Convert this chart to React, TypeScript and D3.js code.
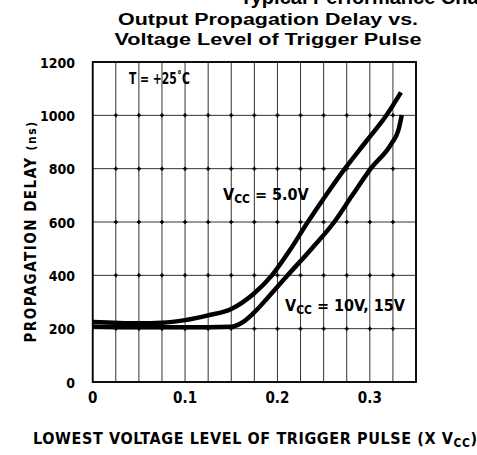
import React from "react";
import * as d3 from "d3";

const xTicks = [0, 0.1, 0.2, 0.3];
const yTicks = [0, 200, 400, 600, 800, 1000, 1200];
const xGrid = d3.range(0, 0.3501, 0.025);

// Vcc = 5.0V
const vcc5X = [0, 0.05, 0.075, 0.1, 0.125, 0.15, 0.174, 0.194, 0.213, 0.232, 0.2525, 0.273, 0.2955, 0.318, 0.3337];
const vcc5Y = [225, 220, 222, 232, 250, 274, 330, 400, 492, 595, 700, 800, 900, 1000, 1086];
// Vcc = 10V, 15V
const vcc10X = [0, 0.05, 0.1, 0.15, 0.161, 0.174, 0.19, 0.211, 0.237, 0.2615, 0.281, 0.301, 0.3236, 0.331, 0.3346];
const vcc10Y = [207, 205, 205, 207, 221, 258, 318, 400, 500, 600, 700, 800, 895, 945, 1001];

const FONT = "'DejaVu Sans Condensed', 'Liberation Sans Narrow', Arial, sans-serif";
const TFONT = "'Liberation Sans', Arial, sans-serif";

export default function App() {
  const W = 477, H = 455;
  const x = d3.scaleLinear().domain([0, 0.35]).range([92.7, 416]);
  const y = d3.scaleLinear().domain([0, 1200]).range([382, 62]);
  const line = d3.line<[number, number]>().x(d => x(d[0])).y(d => y(d[1])).curve(d3.curveMonotoneX);
  const s5 = vcc5X.map((v, i) => [v, vcc5Y[i]] as [number, number]);
  const s10 = vcc10X.map((v, i) => [v, vcc10Y[i]] as [number, number]);

  return (
    <svg width={W} height={H} style={{ position: "absolute", left: 0, top: 0, background: "#fff" }}>
      <rect width={W} height={H} fill="#fff" />
      <text x={240} y={4} fontFamily={TFONT} fontWeight="bold" fontSize={20}>Typical Performance Characteristics</text>
      <text x={268} y={25} textAnchor="middle" fontFamily={TFONT} fontWeight="bold" fontSize={16} textLength={300} lengthAdjust="spacingAndGlyphs">Output Propagation Delay vs.</text>
      <text x={268} y={45} textAnchor="middle" fontFamily={TFONT} fontWeight="bold" fontSize={16} textLength={307} lengthAdjust="spacingAndGlyphs">Voltage Level of Trigger Pulse</text>

      {xGrid.map((v, i) => (
        <line key={"vx" + i} x1={x(v)} x2={x(v)} y1={y(0)} y2={y(1200)} stroke="#333" strokeWidth={1} />
      ))}
      {yTicks.map((v, i) => (
        <line key={"hy" + i} x1={x(0)} x2={x(0.35)} y1={y(v)} y2={y(v)} stroke="#333" strokeWidth={1} />
      ))}
      {xGrid.slice(1, -1).map((v, i) =>
        yTicks.slice(1, -1).map((m, j) => (
          <g key={"mk" + i + "_" + j}>
            <line x1={x(v) - 2} x2={x(v) + 2} y1={y(m)} y2={y(m)} stroke="#000" strokeWidth={1.6} />
            <line x1={x(v)} x2={x(v)} y1={y(m) - 2} y2={y(m) + 2} stroke="#000" strokeWidth={1.6} />
          </g>
        ))
      )}
      <rect x={x(0)} y={y(1200)} width={x(0.35) - x(0)} height={y(0) - y(1200)} fill="none" stroke="#000" strokeWidth={1.8} />

      <path d={line(s5) || ""} fill="none" stroke="#000" strokeWidth={4.5} strokeLinecap="butt" />
      <path d={line(s10) || ""} fill="none" stroke="#000" strokeWidth={4.5} strokeLinecap="butt" />

      {yTicks.map((v, i) => (
        <text key={"yl" + i} x={75} y={y(v) + 5.5} textAnchor="end" fontFamily={FONT} fontWeight="bold" fontSize={14}>{v}</text>
      ))}
      {xTicks.map((v, i) => (
        <text key={"xl" + i} x={x(v)} y={403} textAnchor="middle" fontFamily={FONT} fontWeight="bold" fontSize={15}>{v === 0 ? "0" : v.toFixed(1)}</text>
      ))}

      <text x={129} y={84} fontFamily={FONT} fontWeight="bold" fontSize={15} textLength={61} lengthAdjust="spacingAndGlyphs">T = +25˚C</text>
      <text x={223} y={200} fontFamily={FONT} fontWeight="bold" fontSize={16}>V<tspan fontSize={12} dy={3}>CC</tspan><tspan dy={-3}> = 5.0V</tspan></text>
      <text x={285} y={311} fontFamily={FONT} fontWeight="bold" fontSize={16}>V<tspan fontSize={12} dy={3}>CC</tspan><tspan dy={-3}> = 10V, 15V</tspan></text>

      <text transform={`translate(36,${231.5}) rotate(-90)`} textAnchor="middle" fontFamily={FONT} fontWeight="bold" fontSize={15} letterSpacing={1.5}>PROPAGATION DELAY <tspan fontSize={12}>(ns)</tspan></text>
      <text x={33} y={444} fontFamily={FONT} fontWeight="bold" fontSize={16} letterSpacing={0.6}>LOWEST VOLTAGE LEVEL OF TRIGGER PULSE (X V<tspan fontSize={12} dy={3}>CC</tspan><tspan dy={-3}>)</tspan></text>
    </svg>
  );
}
